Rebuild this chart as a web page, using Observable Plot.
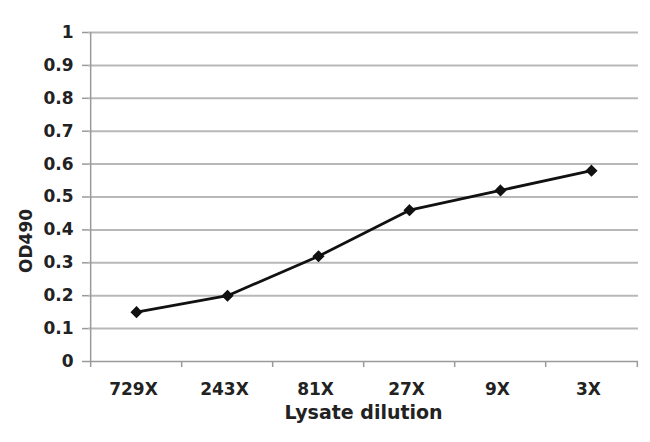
<!DOCTYPE html>
<html><head><meta charset="utf-8">
<script src="https://cdn.jsdelivr.net/npm/d3@7"></script>
<script src="https://cdn.jsdelivr.net/npm/@observablehq/plot@0.6"></script>
<style>body{margin:0;background:#fff} #chart svg{font-family:"DejaVu Sans",sans-serif;}</style>
</head><body><div id="chart"></div>
<script>
const dilutions = ["729X", "243X", "81X", "27X", "9X", "3X"];
const od490 = [0.15, 0.20, 0.32, 0.46, 0.52, 0.58];
const yTicks = [0, 0.1, 0.2, 0.3, 0.4, 0.5, 0.6, 0.7, 0.8, 0.9, 1];
const xTitle = "Lysate dilution";
const yTitle = "OD490";

const data = dilutions.map((d, i) => ({dilution: d, od: od490[i]}));

const W = 650, H = 442, ML = 88, MR = 12, MT = 32, MB = 81;
const step = (W - ML - MR) / dilutions.length;
const gridColor = "#b8b8b8";
const axisColor = "#9a9a9a";
const textColor = "#222";

const chart = Plot.plot({
  width: W, height: H,
  marginLeft: ML, marginRight: MR, marginTop: MT, marginBottom: MB,
  style: {fontFamily: "DejaVu Sans", fontWeight: "bold", background: "#fff", color: textColor},
  x: {type: "point", domain: dilutions, padding: 0.5},
  y: {domain: [0, 1]},
  marks: [
    Plot.ruleY(yTicks.filter(v => v > 0), {stroke: gridColor, strokeWidth: 2}),
    Plot.ruleY([0], {stroke: axisColor, strokeWidth: 1.5}),
    Plot.ruleX([dilutions[0]], {y1: 0, y2: 1, dx: -step / 2, stroke: axisColor, strokeWidth: 1.5}),
    Plot.axisY(yTicks, {tickSize: 6, tickPadding: 9, stroke: axisColor, strokeWidth: 1.5, fill: textColor, fontSize: 17, fontWeight: "bold", tickFormat: d => String(d), label: null}),
    Plot.axisX({ticks: dilutions, tickSize: 6, dx: -step / 2, stroke: axisColor, strokeWidth: 1.5, tickFormat: () => "", label: null}),
    Plot.axisX([dilutions[dilutions.length - 1]], {tickSize: 6, dx: step / 2, stroke: axisColor, strokeWidth: 1.5, tickFormat: () => "", label: null}),
    Plot.axisX({ticks: dilutions, tickSize: 0, tickPadding: 21, dx: -3, fill: textColor, fontSize: 17, fontWeight: "bold", label: null}),
    Plot.text([xTitle], {frameAnchor: "bottom", dy: 57, fontSize: 19, fontWeight: "bold", fill: textColor}),
    Plot.text([yTitle], {frameAnchor: "left", dx: -62, dy: 76, rotate: -90, fontSize: 17, fontWeight: "bold", fill: textColor}),
    Plot.line(data, {x: "dilution", y: "od", stroke: "#111", strokeWidth: 2.8}),
    Plot.dot(data, {x: "dilution", y: "od", symbol: "diamond2", r: 4.5, fill: "#111", stroke: "#111"})
  ]
});
document.getElementById("chart").appendChild(chart);
</script>
</body></html>
